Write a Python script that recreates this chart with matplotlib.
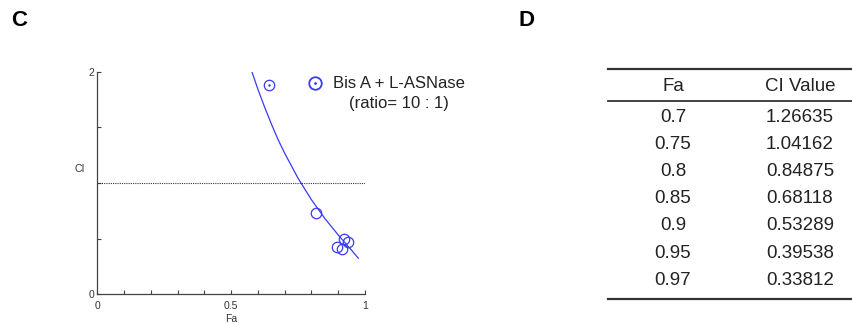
import matplotlib
matplotlib.use("Agg")
import matplotlib.pyplot as plt
from matplotlib.lines import Line2D

plt.rcParams['font.family'] = ['Liberation Sans', 'DejaVu Sans']

# ---- data ----
fa_points = [0.642, 0.817, 0.920, 0.938, 0.897, 0.913]
ci_points = [1.88, 0.733, 0.494, 0.473, 0.422, 0.407]

fa_curve = [0.570, 0.600, 0.625, 0.650, 0.675, 0.700, 0.750, 0.800, 0.850, 0.900, 0.950, 0.970, 0.975]
ci_curve = [2.05, 1.84, 1.68, 1.53, 1.39, 1.26635, 1.04162, 0.84875, 0.68118, 0.53289, 0.39538, 0.33812, 0.325]

table_fa = ["0.7", "0.75", "0.8", "0.85", "0.9", "0.95", "0.97"]
table_ci = ["1.26635", "1.04162", "0.84875", "0.68118", "0.53289", "0.39538", "0.33812"]
table_header = ["Fa", "CI Value"]
legend_lines = ["Bis A + L-ASNase", "(ratio= 10 : 1)"]

W, H = 853, 324
fig = plt.figure(figsize=(W / 100, H / 100), dpi=100)

def fx(px):
    return px / W

def fy(py):
    return 1 - py / H

blue = '#3a3af5'

# ---- panel C ----
ax = fig.add_axes([fx(97.5), fy(294.3), fx(365) - fx(97.5), fy(71.7) - fy(294.3)])
ax.plot(fa_curve, ci_curve, color=blue, lw=0.9, clip_on=True)
ax.plot(fa_points, ci_points, 'o', ms=7.5, mfc='none', mec=blue, mew=0.9)
ax.plot(fa_points[:1], ci_points[:1], '.', ms=1.5, color=blue)
ax.axhline(1.0, color='#333333', lw=0.8, ls=(0, (1, 1)))
ax.set_xlim(0, 1)
ax.set_ylim(0, 2)
for s in ['top', 'right']:
    ax.spines[s].set_visible(False)
for s in ['left', 'bottom']:
    ax.spines[s].set_color('#444444')
    ax.spines[s].set_linewidth(0.9)
ax.set_xticks([i / 10 for i in range(11)])
ax.set_xticklabels(['0', '', '', '', '', '0.5', '', '', '', '', '1'])
ax.set_yticks([0, 0.5, 1, 1.5, 2])
ax.set_yticklabels(['0', '', '', '', '2'])
ax.tick_params(direction='in', length=3, width=0.8, colors='#444444',
               labelsize=7.5, labelcolor='#333333', pad=5)
ax.tick_params(axis='y', pad=2)
fig.text(fx(231), fy(319), 'Fa', fontsize=7.5, ha='center', va='center', color='#333333')
fig.text(fx(80), fy(169), 'CI', fontsize=7.5, ha='center', va='center', color='#333333')

# legend
fig.add_artist(Line2D([fx(315)], [fy(83)], marker='o', ms=9, mfc='none',
                      mec=blue, mew=1.3, transform=fig.transFigure))
fig.add_artist(Line2D([fx(315)], [fy(83)], marker='.', ms=2, color=blue,
                      transform=fig.transFigure))
fig.text(fx(333), fy(83), legend_lines[0], fontsize=12, ha='left', va='center', color='#222222')
fig.text(fx(349), fy(103), legend_lines[1], fontsize=12, ha='left', va='center', color='#222222')

# panel labels
fig.text(fx(11), fy(20), 'C', fontsize=16, fontweight='bold', ha='left', va='center')
fig.text(fx(518), fy(20), 'D', fontsize=16, fontweight='bold', ha='left', va='center')

# ---- panel D (table) ----
tcol = '#222222'
fig.add_artist(Line2D([fx(608), fx(853)], [fy(69), fy(69)], color='#333333', lw=1.6,
                      transform=fig.transFigure))
fig.add_artist(Line2D([fx(608), fx(853)], [fy(101.5), fy(101.5)], color='#333333', lw=1.3,
                      transform=fig.transFigure))
fig.add_artist(Line2D([fx(608), fx(853)], [fy(299), fy(299)], color='#333333', lw=1.6,
                      transform=fig.transFigure))
col_x = [fx(673), fx(800)]
fig.text(col_x[0], fy(86), table_header[0], fontsize=13.5, ha='center', va='center', color=tcol)
fig.text(col_x[1], fy(86), table_header[1], fontsize=13.5, ha='center', va='center', color=tcol)
for i, (a, b) in enumerate(zip(table_fa, table_ci)):
    y = fy(117 + i * 27.2)
    fig.text(col_x[0], y, a, fontsize=13.5, ha='center', va='center', color=tcol)
    fig.text(col_x[1], y, b, fontsize=13.5, ha='center', va='center', color=tcol)

fig.savefig('out.png', dpi=100)
